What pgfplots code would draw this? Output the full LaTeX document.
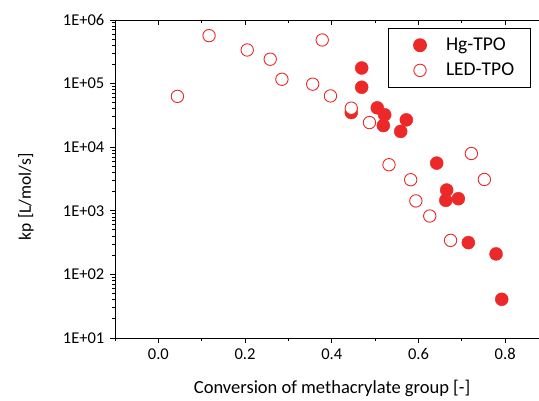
\documentclass[border=0pt]{standalone}
\usepackage{fontspec}
\setmainfont{Carlito}
\usepackage{pgfplots}
\pgfplotsset{compat=1.18}
\definecolor{ptred}{RGB}{236,40,40}
\pgfplotsset{markleg/.style={legend image code/.code={%
  \path[draw=none,fill=none] (-18pt,0pt) -- (24pt,0pt);
  \draw[##1] plot coordinates {(0pt,0pt)};}}}

\begin{document}
\fontsize{16.5}{19}\selectfont
\begin{tikzpicture}
% top axis line with inward ticks
\begin{axis}[
  scale only axis, width=424pt, height=318pt,
  at={(0,0)}, anchor=south west,
  xmin=-0.1, xmax=0.878, ymin=0, ymax=1,
  axis x line*=top, hide y axis,
  tick align=inside,
  xtick={0,0.2,0.4,0.6,0.8}, xticklabels={},
  minor xtick={-0.1,0.1,0.3,0.5,0.7},
  major tick length=5pt, minor tick length=3pt,
  every tick/.style={black, line width=0.9pt},
  axis line style={line width=0.9pt},
]
\end{axis}
\begin{axis}[
  scale only axis, width=424pt, height=318pt,
  at={(0,0)}, anchor=south west,
  ymode=log,
  xmin=-0.1, xmax=0.878, ymin=10, ymax=1e6,
  axis x line*=bottom, axis y line*=left,
  tick align=outside,
  xtick={0,0.2,0.4,0.6,0.8},
  xticklabels={0.0,0.2,0.4,0.6,0.8},
  minor xtick={-0.1,0.1,0.3,0.5,0.7},
  ytick={10,100,1000,10000,100000,1000000},
  yticklabels={1E+01,1E+02,1E+03,1E+04,1E+05,1E+06},
  /pgf/number format/assume math mode=true,
  major tick length=5pt, minor tick length=3pt,
  every tick/.style={black, line width=0.9pt},
  axis line style={line width=0.9pt, -},
  xlabel={Conversion of methacrylate group [-]},
  ylabel={kp [L/mol/s]},
  xlabel style={at={(axis description cs:0.512,-0.157)}, anchor=center,
    font=\fontsize{18.5}{22}\selectfont},
  ylabel style={at={(axis description cs:-0.21,0.444)}, anchor=center,
    font=\fontsize{17.5}{21}\selectfont},
  legend style={at={(0.643,0.974)}, anchor=north west, draw=black,
    line width=0.8pt, inner xsep=14pt, inner ysep=7pt, row sep=6pt,
    font=\fontsize{19.5}{23}\selectfont},
  legend cell align=left,
]
\addplot[only marks, mark=*, mark size=6.5pt, draw=ptred, fill=ptred, markleg] coordinates {
(0.469,176000) (0.469,87700) (0.445,35100) (0.505,41600) (0.522,32300)
(0.519,21900) (0.559,17700) (0.572,26900) (0.642,5620) (0.665,2120)
(0.663,1460) (0.692,1550) (0.715,316) (0.779,210) (0.792,40.6)
};
\addlegendentry{Hg-TPO}
\addplot[only marks, mark=*, mark size=6.2pt, draw=ptred, fill=white, line width=0.9pt, markleg] coordinates {
(0.044,63000) (0.117,568000) (0.205,338000) (0.258,242000) (0.285,117000)
(0.356,98000) (0.378,485000) (0.397,64000) (0.445,41100) (0.487,24400)
(0.532,5300) (0.582,3080) (0.722,7960) (0.752,3110) (0.594,1430)
(0.626,828) (0.674,343)
};
\addlegendentry{LED-TPO}
\end{axis}
\pgfresetboundingbox
\path[use as bounding box] (-115pt,-62pt) rectangle (424pt,338pt);
\end{tikzpicture}
\end{document}
